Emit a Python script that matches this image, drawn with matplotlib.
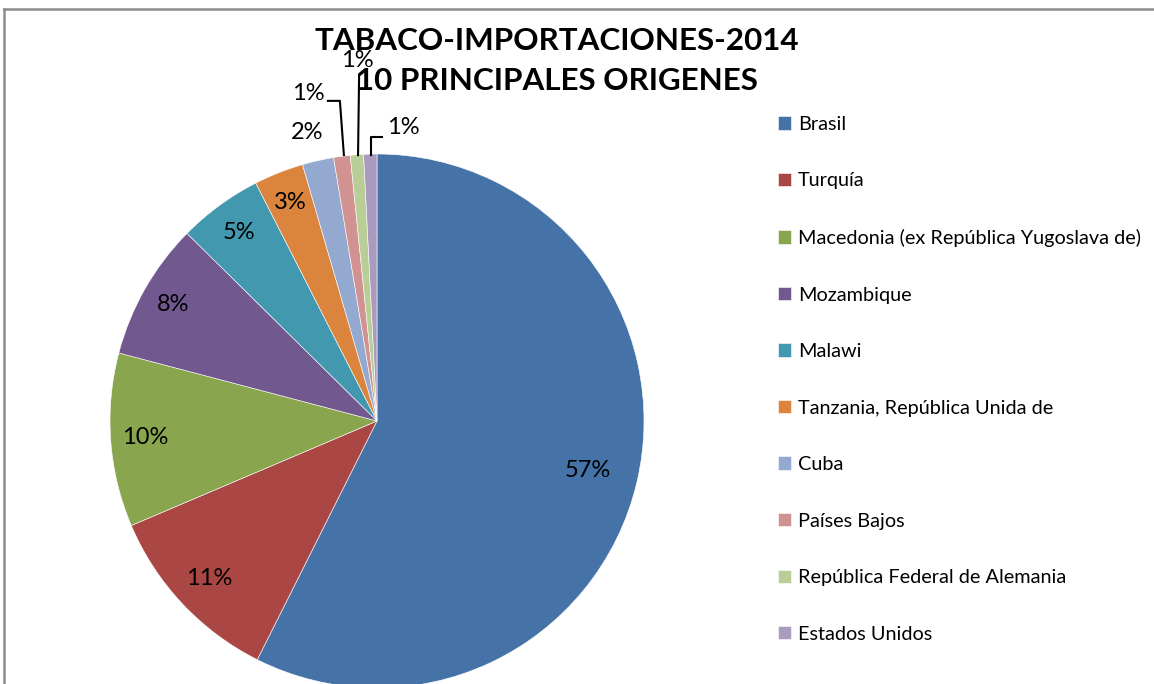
import matplotlib
matplotlib.use("Agg")
import matplotlib.pyplot as plt
from matplotlib.lines import Line2D
import numpy as np

plt.rcParams['font.family'] = ['Lato', 'DejaVu Sans']

# datos (% de las importaciones)
paises = ["Brasil", "Turquía", "Macedonia (ex República Yugoslava de)",
          "Mozambique", "Malawi", "Tanzania, República Unida de", "Cuba",
          "Países Bajos", "República Federal de Alemania", "Estados Unidos"]
valores = [57.4, 11.2, 10.5, 8.3, 5.1, 3.0, 1.9, 1.0, 0.8, 0.8]
colores = ["#4572A7", "#AA4643", "#89A54E", "#71588F", "#4198AF",
           "#DB843D", "#93A9CF", "#D19392", "#B9CD96", "#A99BBD"]

fig = plt.figure(figsize=(11.54, 6.84), dpi=100)

# marco gris (arriba e izquierda)
fig.add_artist(Line2D([4/1154, 1], [1-9/684, 1-9/684], color="#8c8c8c", lw=1.8, transform=fig.transFigure))
fig.add_artist(Line2D([4/1154, 4/1154], [0, 1-9/684], color="#8c8c8c", lw=1.8, transform=fig.transFigure))

ax = fig.add_axes([110/1154, -4/684, 534/1154, 534/684])
wedges, _ = ax.pie(valores, colors=colores, startangle=90, counterclock=False,
                   radius=1, wedgeprops=dict(linewidth=0.4, edgecolor="white"))
ax.set_xlim(-1, 1)
ax.set_ylim(-1, 1)
ax.set_aspect("equal")
ax.axis("off")

total = sum(valores)
etiquetas = ["%d%%" % round(v / total * 100) for v in valores]
fs = 17

# etiquetas dentro del sector
dist = [0.81, 0.86, 0.87, 0.88, 0.875, 0.88]
for w, txt, r in zip(wedges[:6], etiquetas[:6], dist):
    ang = np.deg2rad((w.theta1 + w.theta2) / 2)
    ax.text(r * np.cos(ang), r * np.sin(ang), txt, ha="center", va="center", fontsize=fs)

# etiquetas fuera (sectores pequeños)
ax.text(-0.262, 1.079, etiquetas[6], ha="center", va="center", fontsize=fs, clip_on=False)
ax.text(-0.258, 1.228, etiquetas[7], ha="center", va="center", fontsize=fs, clip_on=False)
ax.text(-0.075, 1.352, etiquetas[8], ha="center", va="center", fontsize=fs, clip_on=False)
ax.text(0.097, 1.101, etiquetas[9], ha="center", va="center", fontsize=fs, clip_on=False)
ax.plot([-0.184, -0.139, -0.124], [1.199, 1.199, 0.996], color="black", lw=1.5, clip_on=False)
ax.plot([-0.067, -0.071], [1.296, 0.996], color="black", lw=1.5, clip_on=False)
ax.plot([0.019, -0.022, -0.022], [1.064, 1.064, 0.996], color="black", lw=1.5, clip_on=False)

fig.text(557/1154, 1-61/684, "TABACO-IMPORTACIONES-2014\n10 PRINCIPALES ORIGENES",
         ha="center", va="center", fontsize=22.6, fontweight="bold", linespacing=1.5)

fig.legend(wedges, paises, loc="upper left", bbox_to_anchor=(760/1154, 1-98/684),
           frameon=False, fontsize=14.3, labelspacing=1.99, handlelength=0.65,
           handleheight=0.65, handletextpad=0.35)

fig.savefig("out.png", dpi=100)
